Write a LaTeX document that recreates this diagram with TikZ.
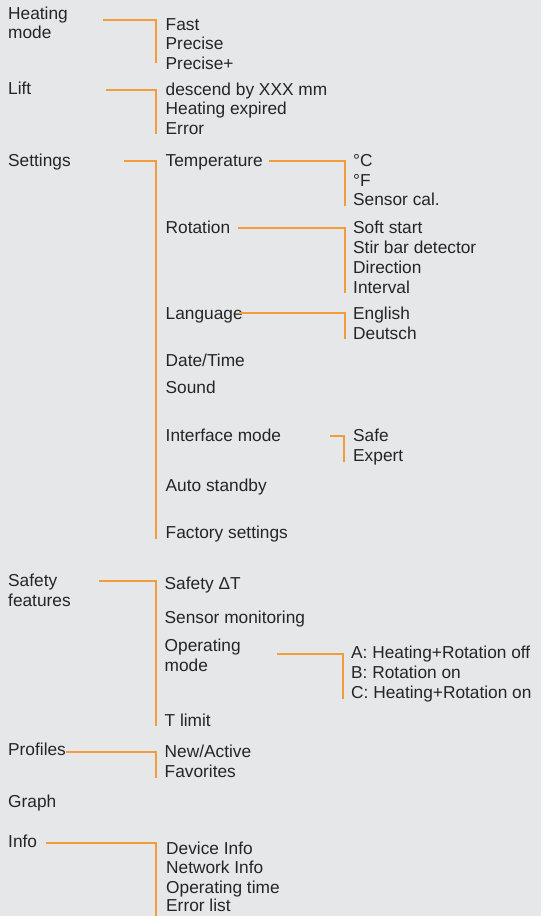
\documentclass[tikz,border=0pt]{standalone}
\usepackage{fontspec}
\setmainfont{Liberation Sans}
\usepackage{xcolor}
\usepackage{tikz}
\usetikzlibrary{positioning, calc}

\definecolor{bgcol}{HTML}{E6E7E9}
\definecolor{linecol}{HTML}{F39C3A}
\definecolor{txtcol}{HTML}{252525}

\tikzset{
  item/.style={anchor=base west, inner sep=0pt, text=txtcol, align=left,
    font=\fontsize{17.3}{19.5}\selectfont},
  link/.style={draw=linecol, line width=1.5pt}
}

\begin{document}
\begin{tikzpicture}[x=1pt, y=-1pt]
\fill[bgcol] (0,0) rectangle (541,916);
\useasboundingbox (0,0) rectangle (541,916);

% Heating mode (two-line labels sit on their last baseline)
\node[item] (hm) at (8, 38.5) {Heating\\mode};
\node[item] (fast) at (165.5, 30) {Fast};
\node[item] (precise) at (165.5, 49.5) {Precise};
\node[item] (preciseplus) at (165.5, 69) {Precise+};
\coordinate (hm-a) at (103, 20);
\coordinate (hm-b) at (156, 63);
\draw[link] (hm-a) -| (hm-b);

% Lift
\node[item] (lift) at (8, 94.5) {Lift};
\node[item] (descend) at (165.5, 95) {descend by XXX mm};
\node[item] (expired) at (165.5, 114.5) {Heating expired};
\node[item] (error) at (165.5, 134) {Error};
\coordinate (lift-a) at (106, 90);
\coordinate (lift-b) at (156, 134);
\draw[link] (lift-a) -| (lift-b);

% Settings
\node[item] (settings) at (8, 166.5) {Settings};
\node[item] (temp) at (165.5, 166.5) {Temperature};
\node[item] (rot) at (165.5, 233.3) {Rotation};
\node[item] (lang) at (165.5, 319.3) {Language};
\node[item] (datetime) at (165.5, 366) {Date/Time};
\node[item] (sound) at (165.5, 393.3) {Sound};
\node[item] (iface) at (165.5, 441) {Interface mode};
\node[item] (autostby) at (165.5, 491.7) {Auto standby};
\node[item] (factory) at (165.5, 538.5) {Factory settings};
\coordinate (set-a) at (124, 161);
\coordinate (set-b) at (156, 539);
\draw[link] (set-a) -| (set-b);

% Settings > Temperature
\node[item] (degc) at (353, 166.7) {°C};
\node[item] (degf) at (353, 186) {°F};
\node[item] (senscal) at (353, 205.7) {Sensor cal.};
\coordinate (temp-a) at (269, 161);
\coordinate (temp-b) at (345, 206);
\draw[link] (temp-a) -| (temp-b);

% Settings > Rotation
\node[item] (soft) at (353, 233.3) {Soft start};
\node[item] (stir) at (353, 253.3) {Stir bar detector};
\node[item] (direction) at (353, 273.3) {Direction};
\node[item] (interval) at (353, 293) {Interval};
\coordinate (rot-a) at (238, 228);
\coordinate (rot-b) at (345, 293);
\draw[link] (rot-a) -| (rot-b);

% Settings > Language
\node[item] (english) at (353, 319.3) {English};
\node[item] (deutsch) at (353, 339) {Deutsch};
\coordinate (lang-a) at (239, 313);
\coordinate (lang-b) at (345, 339);
\draw[link] (lang-a) -| (lang-b);

% Settings > Interface mode
\node[item] (safe) at (353, 441.7) {Safe};
\node[item] (expert) at (353, 461.7) {Expert};
\coordinate (if-a) at (330, 436);
\coordinate (if-b) at (344, 462);
\draw[link] (if-a) -| (if-b);

% Safety features
\node[item] (safety) at (8, 606.2) {Safety\\features};
\node[item] (deltat) at (164.5, 589.3) {Safety ΔT};
\node[item] (sensmon) at (164.5, 623.3) {Sensor monitoring};
\node[item] (opmode) at (164.5, 671.2) {Operating\\mode};
\node[item] (tlimit) at (164.5, 726.7) {T limit};
\coordinate (sf-a) at (99, 581);
\coordinate (sf-b) at (156, 726);
\draw[link] (sf-a) -| (sf-b);

% Safety features > Operating mode
\node[item] (opa) at (351, 658.3) {A: Heating+Rotation off};
\node[item] (opb) at (351, 678.3) {B: Rotation on};
\node[item] (opc) at (351, 698.3) {C: Heating+Rotation on};
\coordinate (op-a) at (277, 654);
\coordinate (op-b) at (343, 699);
\draw[link] (op-a) -| (op-b);

% Profiles
\node[item] (profiles) at (8, 755) {Profiles};
\node[item] (newact) at (164.5, 757.7) {New/Active};
\node[item] (fav) at (164.5, 777.3) {Favorites};
\coordinate (prof-a) at (66, 752);
\coordinate (prof-b) at (156, 778);
\draw[link] (prof-a) -| (prof-b);

% Graph
\node[item] (graph) at (8, 807.7) {Graph};

% Info
\node[item] (info) at (8, 847.3) {Info};
\node[item] (devinfo) at (166, 854) {Device Info};
\node[item] (netinfo) at (166, 873.3) {Network Info};
\node[item] (optime) at (166, 893.3) {Operating time};
\node[item] (errlist) at (166, 911.7) {Error list};
\coordinate (info-a) at (46, 843);
\coordinate (info-b) at (156, 916);
\draw[link] (info-a) -| (info-b);
\end{tikzpicture}
\end{document}
